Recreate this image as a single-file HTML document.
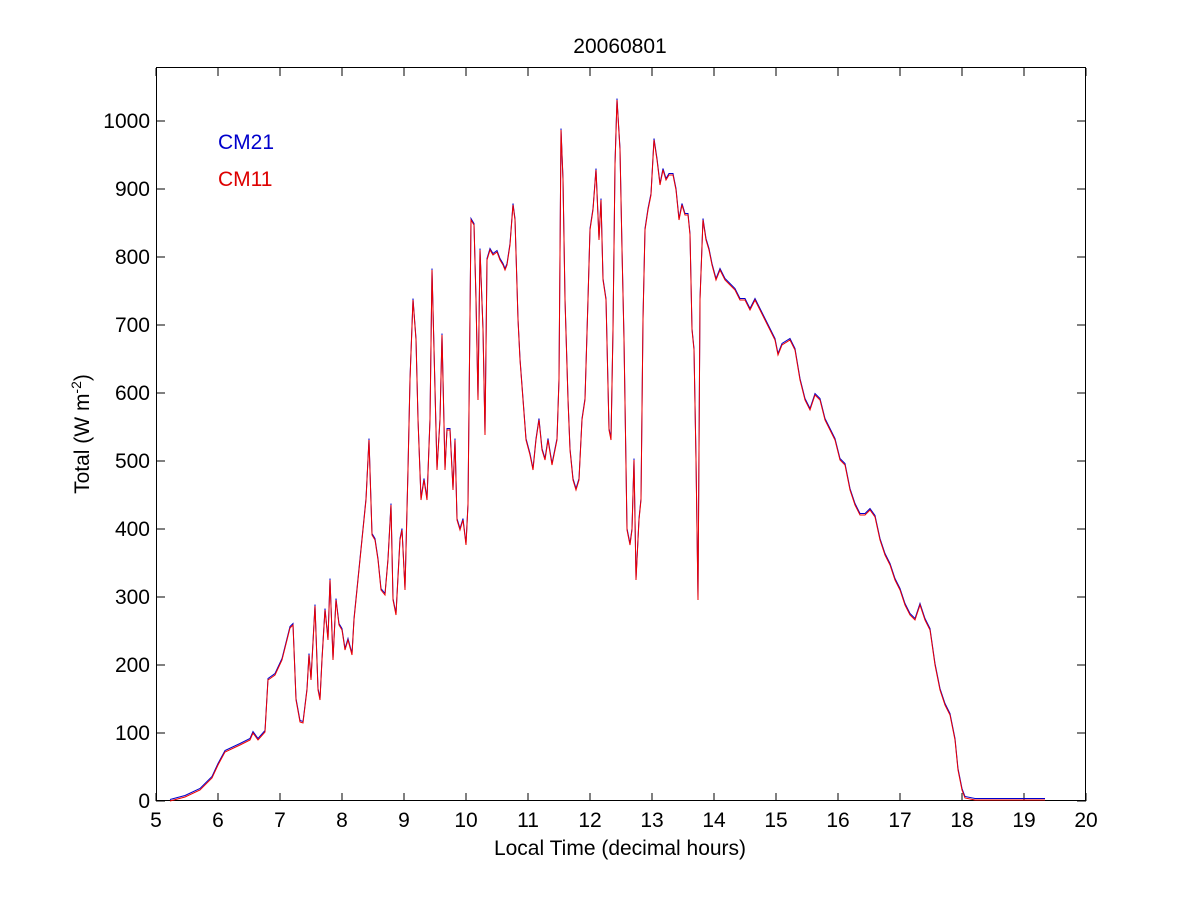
<!DOCTYPE html>
<html><head><style>body{margin:0;background:#fff}svg{display:block}text{font-family:"Liberation Sans",Arial,sans-serif;font-size:21px;fill:#000}</style></head><body>
<svg width="1200" height="900" viewBox="0 0 1200 900" xmlns="http://www.w3.org/2000/svg">
<rect width="1200" height="900" fill="#fff"/>
<g stroke="#000" stroke-width="1" fill="none">
<rect x="156.5" y="67.5" width="929" height="733"/>
<path d="M156 801v-8M218 801v-8M280 801v-8M342 801v-8M404 801v-8M466 801v-8M528 801v-8M590 801v-8M652 801v-8M714 801v-8M776 801v-8M838 801v-8M900 801v-8M962 801v-8M1024 801v-8M1086 801v-8
M156 68v8M218 68v8M280 68v8M342 68v8M404 68v8M466 68v8M528 68v8M590 68v8M652 68v8M714 68v8M776 68v8M838 68v8M900 68v8M962 68v8M1024 68v8M1086 68v8
M156 801h9M156 733h9M156 665h9M156 597h9M156 529h9M156 461h9M156 393h9M156 325h9M156 257h9M156 189h9M156 121h9
M1086 801h-9M1086 733h-9M1086 665h-9M1086 597h-9M1086 529h-9M1086 461h-9M1086 393h-9M1086 325h-9M1086 257h-9M1086 189h-9M1086 121h-9"/>
</g>
<g text-anchor="middle">
<text x="156" y="827">5</text><text x="218" y="827">6</text><text x="280" y="827">7</text><text x="342" y="827">8</text><text x="404" y="827">9</text><text x="466" y="827">10</text><text x="528" y="827">11</text><text x="590" y="827">12</text><text x="652" y="827">13</text><text x="714" y="827">14</text><text x="776" y="827">15</text><text x="838" y="827">16</text><text x="900" y="827">17</text><text x="962" y="827">18</text><text x="1024" y="827">19</text><text x="1086" y="827">20</text>
<text x="620" y="855">Local Time (decimal hours)</text>
<text x="620" y="53">20060801</text>
</g>
<g text-anchor="end">
<text x="150" y="808">0</text><text x="150" y="740">100</text><text x="150" y="672">200</text><text x="150" y="604">300</text><text x="150" y="536">400</text><text x="150" y="468">500</text><text x="150" y="400">600</text><text x="150" y="332">700</text><text x="150" y="264">800</text><text x="150" y="196">900</text><text x="150" y="128">1000</text>
</g>
<text transform="translate(89,434) rotate(-90)" text-anchor="middle">Total (W m<tspan dy="-8" font-size="14">-2</tspan><tspan dy="8">)</tspan></text>
<text x="218" y="149" style="fill:#0000cc">CM21</text>
<text x="218" y="186" style="fill:#dd0000">CM11</text>
<defs><polyline id="d" points="170,801 185,797 200,790 212,778 218,765 225,752 240,745 250,740 253,733 258,740 265,732 268,680 275,675 282,660 290,628 293,625 296,700 300,722 303,723 307,690 309,655 311,680 315,606 318,690 320,700 322,660 325,610 328,640 330,580 333,660 336,600 339,625 342,630 345,650 348,640 352,655 354,620 358,580 362,540 366,500 369,440 372,535 375,540 378,560 381,590 385,595 388,560 391,505 393,600 396,615 400,540 402,530 405,590 408,470 410,380 413,300 416,340 418,420 421,500 424,480 427,500 430,420 432,270 434,350 437,470 440,420 442,335 445,470 447,430 450,430 453,490 455,440 457,520 460,530 463,520 466,545 468,505 471,220 474,225 476,300 478,400 480,250 483,330 485,435 487,260 490,250 493,255 497,252 500,260 503,265 505,270 507,265 510,245 513,205 515,220 518,320 520,360 523,400 526,440 530,455 533,470 536,440 539,420 542,450 545,460 548,440 552,465 555,450 557,440 559,380 561,130 563,180 565,300 568,400 570,450 573,480 576,490 579,480 582,420 585,400 588,300 590,230 593,210 596,170 599,240 601,200 603,280 606,300 609,430 611,440 613,330 615,165 617,100 620,150 622,250 624,340 627,530 630,545 632,530 634,460 636,580 639,520 641,500 643,320 645,230 648,210 651,195 654,140 657,160 660,185 663,170 666,180 669,175 673,175 676,190 679,220 682,205 685,215 688,215 690,235 692,330 694,350 696,460 698,600 700,300 703,220 706,240 709,250 712,265 716,280 720,270 725,280 730,285 735,290 740,300 745,300 750,310 755,300 760,310 765,320 770,330 775,340 778,355 782,345 790,340 795,350 800,380 805,400 810,410 815,395 820,400 825,420 830,430 835,440 840,460 845,465 850,490 855,505 860,515 865,515 870,510 875,517 880,540 885,555 890,565 895,580 900,590 905,605 910,615 915,620 920,605 925,620 930,630 935,665 940,690 945,705 950,715 955,740 958,770 962,790 965,798 975,800 1045,800"/></defs>
<use href="#d" fill="none" stroke="#0000cc" stroke-width="1" transform="translate(0,-1.5)"/>
<use href="#d" fill="none" stroke="#ee0000" stroke-width="1"/>
</svg>
</body></html>
